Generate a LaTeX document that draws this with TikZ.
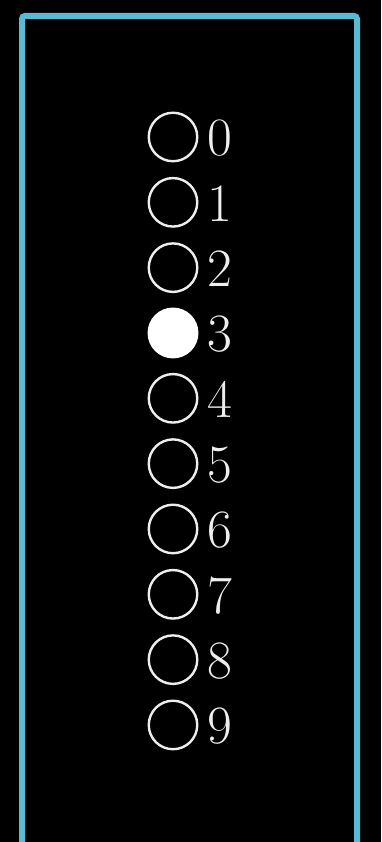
\documentclass[tikz,border=0pt]{standalone}
\definecolor{frame}{HTML}{58BBD3}
\definecolor{ring}{HTML}{EEEEEE}
\begin{document}
\begin{tikzpicture}[x=1pt,y=1pt,
  ringstyle/.style={circle,draw=ring,line width=2.4pt,minimum size=48.5pt,inner sep=0pt},
  digitstyle/.style={text=ring,inner sep=0pt,anchor=base west,font=\fontsize{54}{54}\selectfont}]
\fill[black] (0,0) rectangle (381,842);
\useasboundingbox (0,0) rectangle (381,842);
\draw[frame,line width=6pt,rounded corners=3pt] (22,-10) -- (22,826) -- (357,826) -- (357,-10);
\foreach \i in {0,...,9}{
  \pgfmathsetmacro{\yc}{842-(137+65.33*\i)}
  \ifnum\i=3
    \node[ringstyle,fill=white,draw=white] (c\i) at (173,\yc) {};
  \else
    \node[ringstyle] (c\i) at (173,\yc) {};
  \fi
  \node[digitstyle] (l\i) at (207.5,\yc-19) {\i};
}
\end{tikzpicture}
\end{document}
